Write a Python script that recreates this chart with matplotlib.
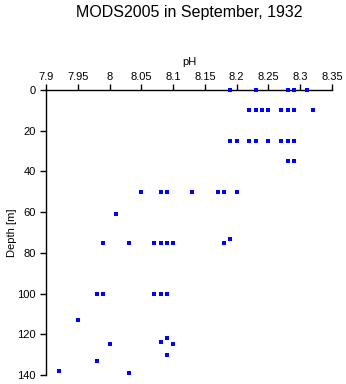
import matplotlib
matplotlib.use("Agg")
from matplotlib import pyplot as plt

plt.rcParams['font.family'] = ['Liberation Sans', 'DejaVu Sans']

# station profile: depth (m) and pH of each sample
depth = [0, 0, 0, 0, 0,
         10, 10, 10, 10, 10, 10, 10, 10,
         25, 25, 25, 25, 25, 25, 25, 25,
         35, 35,
         50, 50, 50, 50, 50, 50, 50,
         61, 73,
         75, 75, 75, 75, 75, 75, 75,
         100, 100, 100, 100, 100,
         113, 122, 124, 125, 125, 130, 133, 138, 139]
ph = [8.19, 8.23, 8.28, 8.29, 8.31,
      8.22, 8.23, 8.24, 8.25, 8.27, 8.28, 8.29, 8.32,
      8.19, 8.20, 8.22, 8.23, 8.25, 8.27, 8.28, 8.29,
      8.28, 8.29,
      8.05, 8.08, 8.09, 8.13, 8.17, 8.18, 8.20,
      8.01, 8.19,
      7.99, 8.03, 8.07, 8.08, 8.09, 8.10, 8.18,
      7.98, 7.99, 8.07, 8.08, 8.09,
      7.95, 8.09, 8.08, 8.00, 8.10, 8.09, 7.98, 7.92, 8.03]

xticks = [7.9, 7.95, 8.0, 8.05, 8.1, 8.15, 8.2, 8.25, 8.3, 8.35]
xlabels = ['7.9', '7.95', '8', '8.05', '8.1', '8.15', '8.2', '8.25', '8.3', '8.35']
yticks = [0, 20, 40, 60, 80, 100, 120, 140]

fig = plt.figure(figsize=(3.46, 3.84), dpi=100)
ax = fig.add_axes([0.1335, 0.0234, 0.826, 0.7422])
ax.plot(ph, depth, 's', color='#0000ff', markersize=2.3, markeredgewidth=0,
        antialiased=False, clip_on=False, zorder=3)

ax.set_xlim(7.9, 8.35)
ax.set_ylim(140, 0)
ax.xaxis.tick_top()
ax.xaxis.set_label_position('top')
ax.set_xticks(xticks)
ax.set_xticklabels(xlabels)
ax.set_yticks(yticks)
ax.tick_params(axis='both', direction='out', length=4.5, width=1.0,
               labelsize=8)
ax.tick_params(axis='x', pad=1)
ax.tick_params(axis='y', pad=3)
ax.set_xlabel('pH', fontsize=8, labelpad=5)
ax.set_ylabel('Depth [m]', fontsize=8, labelpad=0)
ax.spines['right'].set_visible(False)
ax.spines['bottom'].set_visible(False)
ax.spines['top'].set_linewidth(1.0)
ax.spines['left'].set_linewidth(1.0)

# title centred over the plotting area
box = ax.get_position()
fig.text((box.x0 + box.x1) / 2, 0.968, 'MODS2005 in September, 1932',
         fontsize=11.5, ha='center', va='center')

fig.savefig('out.png', dpi=100)
